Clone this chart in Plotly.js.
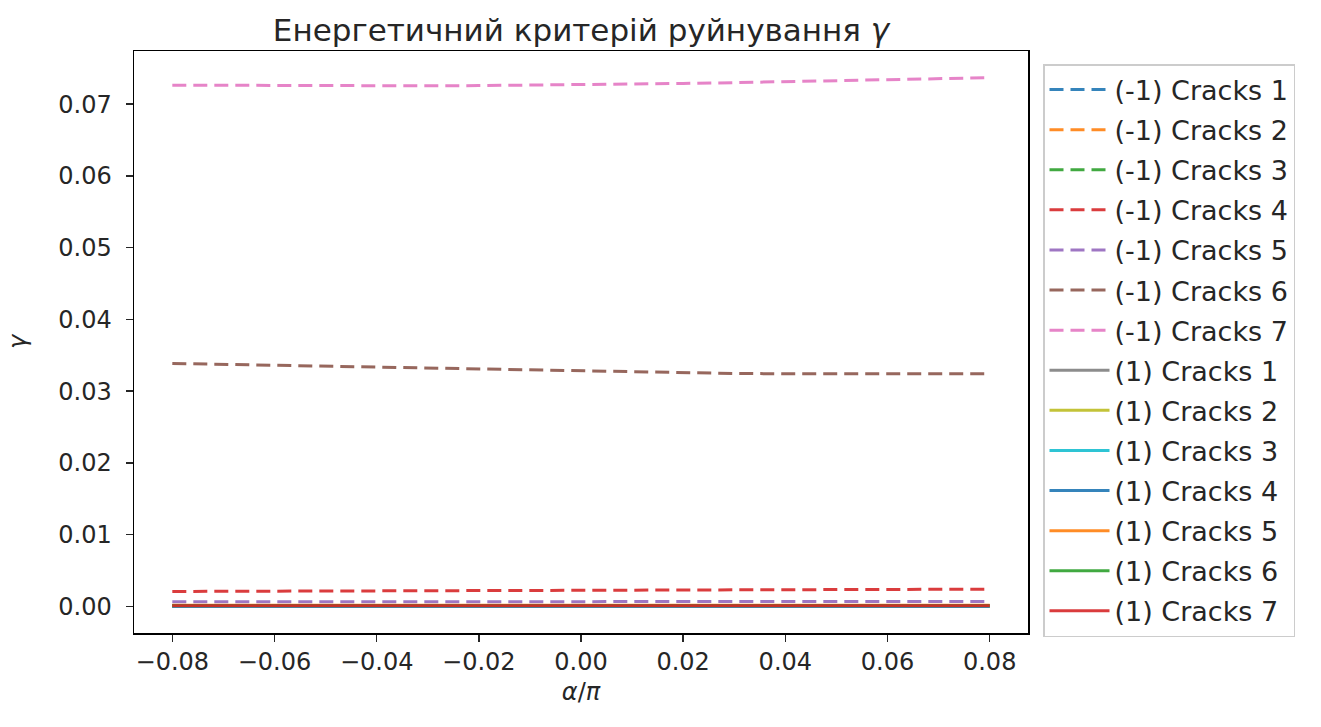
<!DOCTYPE html>
<html>
<head>
<meta charset="utf-8">
<script src="https://cdn.plot.ly/plotly-3.0.1.min.js"></script>
<style>
  html, body { margin: 0; padding: 0; background: #ffffff; }
  #chart { width: 1321px; height: 727px; }
</style>
</head>
<body>
<div id="chart"></div>
<script>
// Angle of the load, alpha/pi
const alphaOverPi = [-0.08, -0.07, -0.06, -0.05, -0.04, -0.03, -0.02, -0.01, 0.00,
                      0.01, 0.02, 0.03, 0.04, 0.05, 0.06, 0.07, 0.08];

// Energy criterion gamma, load case (-1)
const negCracks1 = [0.00003, 0.00003, 0.00003, 0.00003, 0.00003, 0.00003, 0.00003, 0.00003, 0.00003,
                    0.00003, 0.00003, 0.00003, 0.00004, 0.00004, 0.00004, 0.00004, 0.00004];
const negCracks2 = [0.00010, 0.00010, 0.00010, 0.00010, 0.00010, 0.00010, 0.00011, 0.00011, 0.00011,
                    0.00011, 0.00011, 0.00011, 0.00012, 0.00012, 0.00012, 0.00012, 0.00012];
const negCracks3 = [0.00005, 0.00005, 0.00005, 0.00005, 0.00005, 0.00005, 0.00005, 0.00005, 0.00005,
                    0.00005, 0.00005, 0.00005, 0.00005, 0.00006, 0.00006, 0.00006, 0.00006];
const negCracks4 = [0.00209, 0.00211, 0.00213, 0.00215, 0.00217, 0.00219, 0.00221, 0.00223, 0.00225,
                    0.00227, 0.00229, 0.00231, 0.00233, 0.00235, 0.00237, 0.00239, 0.00241];
const negCracks5 = [0.00064, 0.00064, 0.00065, 0.00065, 0.00065, 0.00066, 0.00066, 0.00066, 0.00067,
                    0.00067, 0.00067, 0.00068, 0.00068, 0.00069, 0.00069, 0.00070, 0.00070];
const negCracks6 = [0.03386, 0.03373, 0.03360, 0.03345, 0.03331, 0.03318, 0.03304, 0.03292, 0.03280,
                    0.03268, 0.03257, 0.03247, 0.03242, 0.03240, 0.03239, 0.03240, 0.03241];
const negCracks7 = [0.07264, 0.07261, 0.07258, 0.07255, 0.07254, 0.07255, 0.07258, 0.07264, 0.07271,
                    0.07278, 0.07288, 0.07299, 0.07312, 0.07326, 0.07340, 0.07354, 0.07368];

// Energy criterion gamma, load case (1)
const posCracks1 = [0.00002, 0.00002, 0.00002, 0.00002, 0.00002, 0.00002, 0.00002, 0.00002, 0.00002,
                    0.00002, 0.00002, 0.00002, 0.00002, 0.00002, 0.00002, 0.00002, 0.00002];
const posCracks2 = [0.00004, 0.00004, 0.00004, 0.00004, 0.00004, 0.00004, 0.00004, 0.00004, 0.00004,
                    0.00004, 0.00004, 0.00004, 0.00004, 0.00004, 0.00004, 0.00004, 0.00004];
const posCracks3 = [0.00001, 0.00001, 0.00001, 0.00001, 0.00001, 0.00001, 0.00001, 0.00001, 0.00001,
                    0.00001, 0.00001, 0.00001, 0.00001, 0.00001, 0.00001, 0.00001, 0.00001];
const posCracks4 = [0.00006, 0.00006, 0.00006, 0.00006, 0.00006, 0.00006, 0.00006, 0.00006, 0.00006,
                    0.00006, 0.00006, 0.00006, 0.00006, 0.00006, 0.00006, 0.00006, 0.00006];
const posCracks5 = [0.00017, 0.00017, 0.00017, 0.00017, 0.00017, 0.00017, 0.00017, 0.00017, 0.00018,
                    0.00018, 0.00018, 0.00018, 0.00018, 0.00018, 0.00018, 0.00018, 0.00018];
const posCracks6 = [0.00014, 0.00014, 0.00014, 0.00014, 0.00014, 0.00014, 0.00014, 0.00014, 0.00014,
                    0.00014, 0.00014, 0.00014, 0.00014, 0.00014, 0.00014, 0.00014, 0.00014];
const posCracks7 = [0.00009, 0.00009, 0.00009, 0.00009, 0.00009, 0.00009, 0.00009, 0.00009, 0.00009,
                    0.00009, 0.00009, 0.00009, 0.00009, 0.00009, 0.00009, 0.00009, 0.00009];

const seriesNames = [
  '(-1) Cracks 1', '(-1) Cracks 2', '(-1) Cracks 3', '(-1) Cracks 4', '(-1) Cracks 5',
  '(-1) Cracks 6', '(-1) Cracks 7',
  '(1) Cracks 1', '(1) Cracks 2', '(1) Cracks 3', '(1) Cracks 4', '(1) Cracks 5',
  '(1) Cracks 6', '(1) Cracks 7'
];
const seriesValues = [
  negCracks1, negCracks2, negCracks3, negCracks4, negCracks5, negCracks6, negCracks7,
  posCracks1, posCracks2, posCracks3, posCracks4, posCracks5, posCracks6, posCracks7
];
// tab10 colour cycle, continued across both load cases
const palette = ['#1f77b4', '#ff7f0e', '#2ca02c', '#d62728', '#9467bd',
                 '#8c564b', '#e377c2', '#7f7f7f', '#bcbd22', '#17becf'];

const xTicks = [-0.08, -0.06, -0.04, -0.02, 0.00, 0.02, 0.04, 0.06, 0.08];
const yTicks = [0.00, 0.01, 0.02, 0.03, 0.04, 0.05, 0.06, 0.07];

const FONT = 'DejaVu Sans, sans-serif';
const INK = '#262626';

const traces = seriesNames.map((name, i) => ({
  type: 'scatter',
  mode: 'lines',
  name: name,
  legendgroup: 'g' + i,
  x: alphaOverPi,
  y: seriesValues[i],
  opacity: 0.9,
  line: {
    color: palette[i % palette.length],
    width: 3,
    dash: i < 7 ? '14px,7px' : 'solid'
  },
  hoverinfo: 'x+y+name'
}));

const layout = {
  width: 1321,
  height: 727,
  paper_bgcolor: '#ffffff',
  plot_bgcolor: '#ffffff',
  margin: { l: 134, r: 293, t: 51, b: 94, pad: 0 },
  font: { family: FONT, size: 24, color: INK },
  title: {
    text: 'Енергетичний критерій руйнування <i>γ</i>',
    font: { family: FONT, size: 31, color: INK },
    x: (134 + 1028) / 2 / 1321,
    xanchor: 'center',
    y: 1 - 30 / 727,
    yanchor: 'middle'
  },
  xaxis: {
    range: [-0.0875, 0.0875],
    tickvals: xTicks,
    ticktext: xTicks.map(v => (v < 0 ? '\u22120' : '0') + Math.abs(v).toFixed(2).slice(1)),
    ticks: 'outside',
    ticklen: 7,
    tickwidth: 1.5,
    tickcolor: INK,
    showgrid: false,
    zeroline: false,
    showline: true,
    linecolor: '#000000',
    linewidth: 1.5,
    mirror: true,
    tickfont: { family: FONT, size: 24, color: INK },
    title: {
      text: '<i>α</i>/<i>π</i>',
      font: { family: FONT, size: 24, color: INK },
      standoff: 8
    }
  },
  yaxis: {
    range: [-0.0037, 0.0774],
    tickvals: yTicks,
    ticktext: yTicks.map(v => v.toFixed(2)),
    ticks: 'outside',
    ticklen: 7,
    tickwidth: 1.5,
    tickcolor: INK,
    ticklabelstandoff: 9,
    showgrid: false,
    zeroline: false,
    showline: true,
    linecolor: '#000000',
    linewidth: 1.5,
    mirror: true,
    tickfont: { family: FONT, size: 24, color: INK },
    title: {
      text: '<i>γ</i>',
      font: { family: FONT, size: 24, color: INK },
      standoff: 25
    }
  },
  showlegend: true,
  legend: {
    x: (1043 - 134) / 894,
    xanchor: 'left',
    y: (633 - 64) / 582,
    yanchor: 'top',
    bgcolor: 'rgba(255,255,255,0.8)',
    bordercolor: '#cccccc',
    borderwidth: 1.5,
    font: { family: FONT, size: 27, color: INK },
    tracegroupgap: 2,
    itemwidth: 60,
    traceorder: 'grouped'
  }
};

Plotly.newPlot('chart', traces, layout, { displayModeBar: false, staticPlot: true });
</script>
</body>
</html>
